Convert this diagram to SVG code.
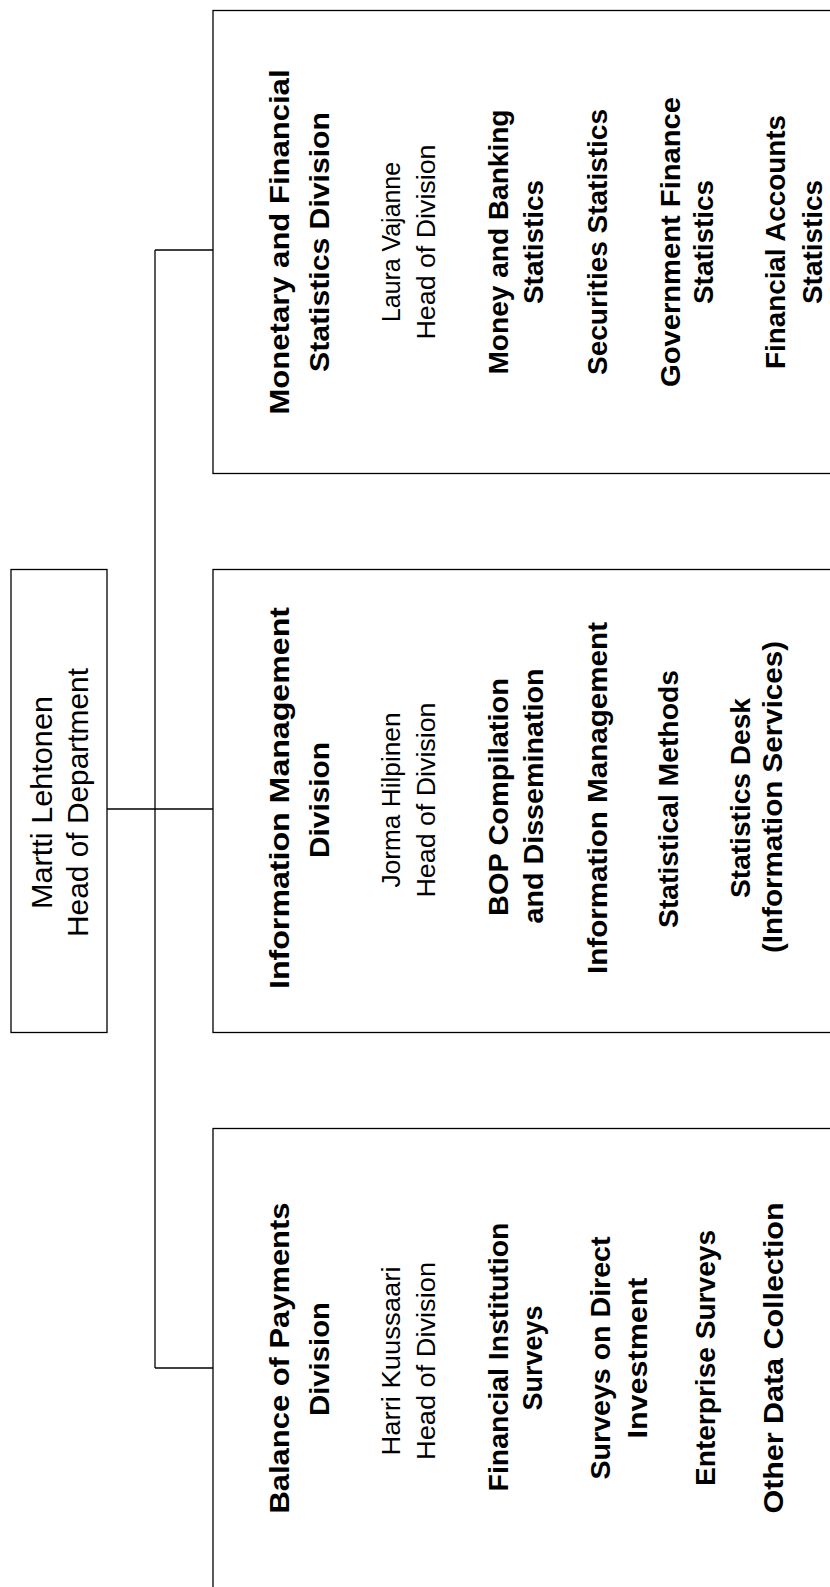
<svg xmlns="http://www.w3.org/2000/svg" width="830" height="1587" viewBox="0 0 830 1587">
<style>
.box{fill:#fff;stroke:#000;stroke-width:1.3}
.ln{fill:none;stroke:#000;stroke-width:1.3}
text{font-family:"Liberation Sans",Arial,sans-serif;text-anchor:middle;fill:#000}
.hd{font-size:30px}
.nm{font-size:26px}
.tt{font-size:28px;font-weight:bold}
.it{font-size:27px;font-weight:bold}
</style>
<rect width="830" height="1587" fill="#fff"/>
<g id="connectors">
<line class="ln" x1="107" y1="809" x2="213" y2="809"/>
<line class="ln" x1="155" y1="250" x2="155" y2="1368"/>
<line class="ln" x1="155" y1="250" x2="213" y2="250"/>
<line class="ln" x1="155" y1="1368" x2="213" y2="1368"/>
</g>
<g id="head">
<rect class="box" x="11" y="569.5" width="96" height="463"/>
<text class="hd" transform="translate(52,802.5) rotate(-90)" textLength="213" lengthAdjust="spacingAndGlyphs">Martti Lehtonen</text>
<text class="hd" transform="translate(88,802.5) rotate(-90)" textLength="269" lengthAdjust="spacingAndGlyphs">Head of Department</text>
</g>
<g id="monetary">
<rect class="box" x="213" y="10.5" width="640" height="463"/>
<text class="tt" transform="translate(289,242) rotate(-90)" textLength="345" lengthAdjust="spacingAndGlyphs">Monetary and Financial</text>
<text class="tt" transform="translate(329,242) rotate(-90)" textLength="260" lengthAdjust="spacingAndGlyphs">Statistics Division</text>
<text class="nm" transform="translate(400,242) rotate(-90)" textLength="160" lengthAdjust="spacingAndGlyphs">Laura Vajanne</text>
<text class="nm" transform="translate(435,242) rotate(-90)" textLength="195" lengthAdjust="spacingAndGlyphs">Head of Division</text>
<text class="it" transform="translate(508,242) rotate(-90)" textLength="265" lengthAdjust="spacingAndGlyphs">Money and Banking</text>
<text class="it" transform="translate(543,242) rotate(-90)" textLength="124" lengthAdjust="spacingAndGlyphs">Statistics</text>
<text class="it" transform="translate(607,242) rotate(-90)" textLength="266" lengthAdjust="spacingAndGlyphs">Securities Statistics</text>
<text class="it" transform="translate(680,242) rotate(-90)" textLength="290" lengthAdjust="spacingAndGlyphs">Government Finance</text>
<text class="it" transform="translate(713,242) rotate(-90)" textLength="124" lengthAdjust="spacingAndGlyphs">Statistics</text>
<text class="it" transform="translate(785,242) rotate(-90)" textLength="254" lengthAdjust="spacingAndGlyphs">Financial Accounts</text>
<text class="it" transform="translate(822,242) rotate(-90)" textLength="124" lengthAdjust="spacingAndGlyphs">Statistics</text>
</g>
<g id="information">
<rect class="box" x="213" y="569.5" width="640" height="463"/>
<text class="tt" transform="translate(289,798) rotate(-90)" textLength="382" lengthAdjust="spacingAndGlyphs">Information Management</text>
<text class="tt" transform="translate(329,800) rotate(-90)" textLength="116" lengthAdjust="spacingAndGlyphs">Division</text>
<text class="nm" transform="translate(400,800) rotate(-90)" textLength="175" lengthAdjust="spacingAndGlyphs">Jorma Hilpinen</text>
<text class="nm" transform="translate(435,800) rotate(-90)" textLength="195" lengthAdjust="spacingAndGlyphs">Head of Division</text>
<text class="it" transform="translate(508,797) rotate(-90)" textLength="238" lengthAdjust="spacingAndGlyphs">BOP Compilation</text>
<text class="it" transform="translate(543,796) rotate(-90)" textLength="255" lengthAdjust="spacingAndGlyphs">and Dissemination</text>
<text class="it" transform="translate(607,798) rotate(-90)" textLength="352" lengthAdjust="spacingAndGlyphs">Information Management</text>
<text class="it" transform="translate(678,799) rotate(-90)" textLength="258" lengthAdjust="spacingAndGlyphs">Statistical Methods</text>
<text class="it" transform="translate(750,798) rotate(-90)" textLength="200" lengthAdjust="spacingAndGlyphs">Statistics Desk</text>
<text class="it" transform="translate(782,797) rotate(-90)" textLength="312" lengthAdjust="spacingAndGlyphs">(Information Services)</text>
</g>
<g id="balance">
<rect class="box" x="213" y="1128.5" width="640" height="470"/>
<text class="tt" transform="translate(289,1358) rotate(-90)" textLength="311" lengthAdjust="spacingAndGlyphs">Balance of Payments</text>
<text class="tt" transform="translate(329,1359) rotate(-90)" textLength="114" lengthAdjust="spacingAndGlyphs">Division</text>
<text class="nm" transform="translate(400,1361) rotate(-90)" textLength="189" lengthAdjust="spacingAndGlyphs">Harri Kuussaari</text>
<text class="nm" transform="translate(435,1361) rotate(-90)" textLength="198" lengthAdjust="spacingAndGlyphs">Head of Division</text>
<text class="it" transform="translate(508,1357) rotate(-90)" textLength="269" lengthAdjust="spacingAndGlyphs">Financial Institution</text>
<text class="it" transform="translate(542,1358) rotate(-90)" textLength="105" lengthAdjust="spacingAndGlyphs">Surveys</text>
<text class="it" transform="translate(610,1358) rotate(-90)" textLength="243" lengthAdjust="spacingAndGlyphs">Surveys on Direct</text>
<text class="it" transform="translate(647,1358) rotate(-90)" textLength="161" lengthAdjust="spacingAndGlyphs">Investment</text>
<text class="it" transform="translate(715,1358) rotate(-90)" textLength="256" lengthAdjust="spacingAndGlyphs">Enterprise Surveys</text>
<text class="it" transform="translate(783,1358) rotate(-90)" textLength="311" lengthAdjust="spacingAndGlyphs">Other Data Collection</text>
</g>
</svg>
